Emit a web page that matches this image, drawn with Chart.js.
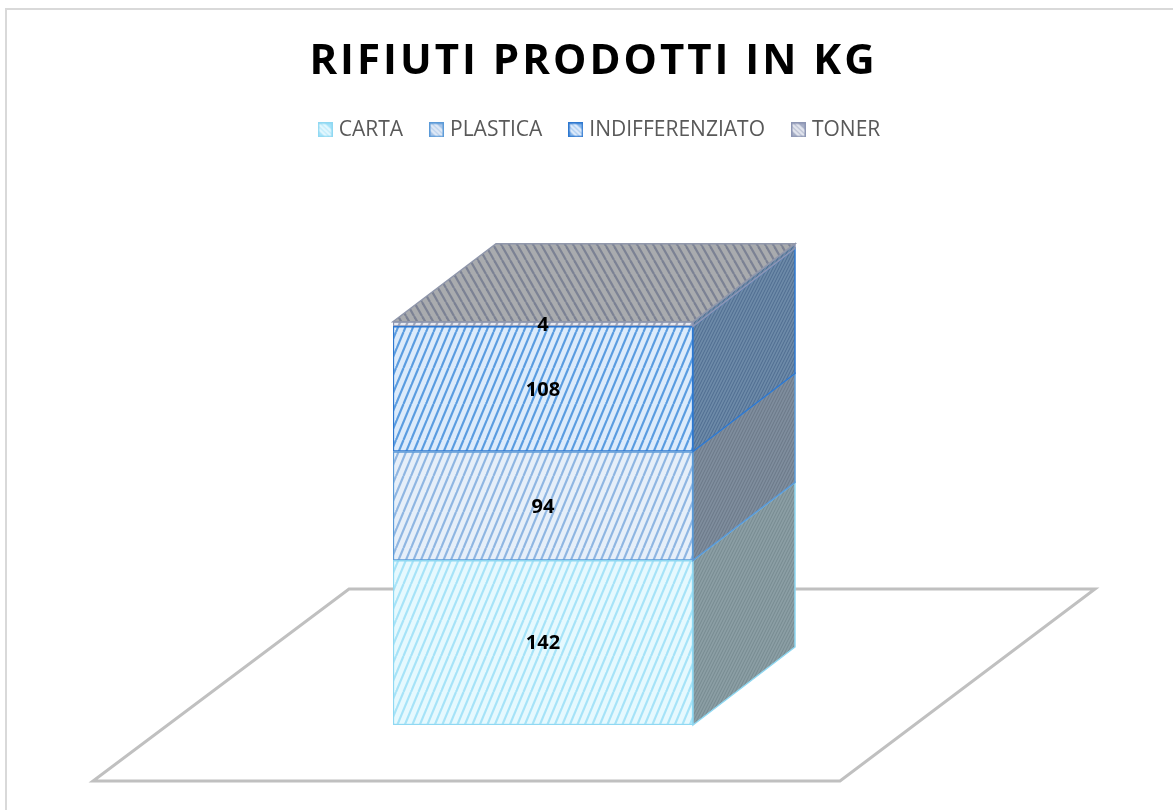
<!DOCTYPE html>
<html>
<head>
<meta charset="utf-8">
<style>
html,body{margin:0;padding:0;width:1173px;height:810px;overflow:hidden;background:#fff}
#frame{position:absolute;left:5px;top:8px;width:1300px;height:900px;border-left:2px solid #d9d9d9;border-top:2px solid #d9d9d9;box-sizing:border-box}
#c{position:absolute;left:6px;top:8px}
</style>
<script src="https://cdn.jsdelivr.net/npm/chart.js@4/dist/chart.umd.js"></script>
</head>
<body>
<div id="frame"></div>
<canvas id="c" width="1175" height="810"></canvas>
<script>
const categories = ['RIFIUTI'];
const seriesNames = ['CARTA','PLASTICA','INDIFFERENZIATO','TONER'];
const carta = [142];
const plastica = [94];
const indifferenziato = [108];
const toner = [4];
const seriesValues = [carta, plastica, indifferenziato, toner];
const chartTitle = 'RIFIUTI PRODOTTI IN KG';

const frontBg   = ['#e6f9fe','#e6eff9','#dcebfb','#e8eaf0'];
const frontLine = ['#a6e3f8','#8fb6e2','#5a9ce0','#a0a8bc'];
const borders   = ['#8fd8f2','#5b9ad8','#2e78d0','#8d96b4'];
const sideBg    = ['#8b9ea4','#7f8d9d','#6d8aa8','#6d8aa8'];
const sideLine  = ['#778a90','#6b7888','#4f6c90','#4f6c90'];
const legendFill = ['#a8e4fa','#a6c4e8','#86b6ea','#a6aec6'];
const legendBand = ['#e4f8fe','#dfe9f6','#e0ecfb','#e2e5ee'];

function stripeTile(bg, line, w, h, lw, back, n){
  const t = document.createElement('canvas');
  t.width = w; t.height = h;
  const g = t.getContext('2d');
  g.fillStyle = bg; g.fillRect(0,0,w,h);
  g.strokeStyle = line; g.lineWidth = lw;
  for(let k=-n;k<=2*n;k++){
    const o = k*w/n;
    g.beginPath();
    if(back){ g.moveTo(o,0); g.lineTo(o+w,h); }
    else    { g.moveTo(o+w,0); g.lineTo(o,h); }
    g.stroke();
  }
  return t;
}
function legendGlyph(i){
  const t = document.createElement('canvas');
  t.width = 15; t.height = 15;
  const g = t.getContext('2d');
  g.fillStyle = legendFill[i]; g.fillRect(0,0,15,15);
  g.save(); g.beginPath(); g.rect(1,1,13,13); g.clip();
  g.strokeStyle = legendBand[i]; g.lineWidth = 2.6;
  [-5,0,5].forEach(d=>{ g.beginPath(); g.moveTo(d-1,0); g.lineTo(d+15,15); g.stroke(); });
  g.restore();
  g.strokeStyle = borders[i]; g.lineWidth = 1.5; g.strokeRect(.75,.75,13.5,13.5);
  return t;
}
const ctx0 = document.getElementById('c').getContext('2d');
const pat = (bg,line,w,h,lw,back,n)=>ctx0.createPattern(stripeTile(bg,line,w,h,lw,back,n),'repeat');
const frontPatterns = frontBg.map((b,i)=>pat(b,frontLine[i],15,36,2.2,false,2));
const sidePatterns  = sideBg.map((b,i)=>pat(b,sideLine[i],3,6,1,false,1));
const topPattern = pat('#a9abae','#7c8294',8,14,2.2,true,1);
const legendGlyphs = seriesNames.map((n,i)=>legendGlyph(i));

const DEPTH_X = 102, DEPTH_Y = -78;

const cube3d = {
  id:'cube3d',
  beforeDatasetsDraw(chart){
    const c = chart.ctx;
    const first = chart.getDatasetMeta(0).data[0];
    const l = first.x-first.width/2, r = first.x+first.width/2, b = first.base;
    c.save();
    c.strokeStyle = '#c0c0c0'; c.lineWidth = 3; c.lineJoin='miter';
    c.beginPath();
    c.moveTo(l-300,b+56); c.lineTo(r+147,b+56);
    c.lineTo(r+402,b-136); c.lineTo(l-44,b-136);
    c.closePath(); c.stroke();
    c.restore();
  },
  afterDatasetsDraw(chart){
    const c = chart.ctx;
    c.save();
    let topEl;
    chart.data.datasets.forEach((ds,i)=>{
      const el = chart.getDatasetMeta(i).data[0];
      const r = el.x+el.width/2, top = el.y, base = el.base;
      c.beginPath();
      c.moveTo(r,base); c.lineTo(r+DEPTH_X,base+DEPTH_Y);
      c.lineTo(r+DEPTH_X,top+DEPTH_Y); c.lineTo(r,top); c.closePath();
      c.fillStyle = sidePatterns[i]; c.fill();
      c.strokeStyle = borders[i]; c.lineWidth = 1.5; c.stroke();
      topEl = el;
    });
    const l = topEl.x-topEl.width/2, r = topEl.x+topEl.width/2, t = topEl.y;
    c.beginPath();
    c.moveTo(l,t); c.lineTo(r,t); c.lineTo(r+DEPTH_X,t+DEPTH_Y); c.lineTo(l+DEPTH_X+1,t+DEPTH_Y); c.closePath();
    c.fillStyle = topPattern; c.fill();
    c.strokeStyle = '#9097ab'; c.lineWidth = 1.5; c.stroke();
    c.fillStyle = '#000'; c.font = 'bold 20px "Open Sans"';
    c.textAlign='center'; c.textBaseline='middle';
    chart.data.datasets.forEach((ds,i)=>{
      const el = chart.getDatasetMeta(i).data[0];
      c.fillText(String(ds.data[0]), el.x, (el.y+el.base)/2 + 1);
    });
    c.restore();
  },
  beforeDraw(chart){
    const tb = chart.titleBlock;
    if(tb && !tb._spaced){
      const orig = tb.draw.bind(tb);
      tb.draw = function(){ const g = chart.ctx; g.letterSpacing='3px'; orig(); g.letterSpacing='0px'; };
      tb._spaced = true;
    }
  },
  afterLayout(chart){
    const lg = chart.legend;
    lg.left += 7.75; lg.right += 7.75;
  }
};

const spacer = {display:true,ticks:{display:false},grid:{display:false},border:{display:false}};

new Chart(ctx0,{
  type:'bar',
  data:{
    labels:categories,
    datasets:seriesValues.map((v,i)=>({
      label:seriesNames[i], data:v,
      backgroundColor:frontPatterns[i],
      borderColor:borders[i], borderWidth:1.5, borderSkipped:false
    }))
  },
  options:{
    responsive:false, animation:false,
    plugins:{
      tooltip:{enabled:false},
      title:{display:true,text:chartTitle,color:'#000',
        font:{family:'"Open Sans"',size:42,weight:'bold'},
        padding:{top:28.5,bottom:2}},
      legend:{display:true,position:'top',
        labels:{usePointStyle:true,pointStyleWidth:6,boxHeight:15,padding:30.5,color:'#595959',
          font:{family:'"Open Sans"',size:21},
          generateLabels(chart){
            return chart.data.datasets.map((ds,i)=>({
              text:ds.label,fillStyle:ds.backgroundColor,strokeStyle:ds.borderColor,
              lineWidth:0,pointStyle:legendGlyphs[i],datasetIndex:i,fontColor:'#595959',hidden:false
            }));
          }}}
    },
    scales:{
      x:{...spacer,stacked:true,position:'bottom',afterFit(s){s.height=93;}},
      xTop:{...spacer,type:'category',position:'top',afterFit(s){s.height=111;}},
      y:{...spacer,stacked:true,position:'left',min:0,max:400,afterFit(s){s.width=387;}},
      yRight:{...spacer,type:'linear',position:'right',min:0,max:400,afterFit(s){s.width=488;}}
    },
    datasets:{bar:{barPercentage:1,categoryPercentage:1}}
  },
  plugins:[cube3d]
});
</script>
</body>
</html>
